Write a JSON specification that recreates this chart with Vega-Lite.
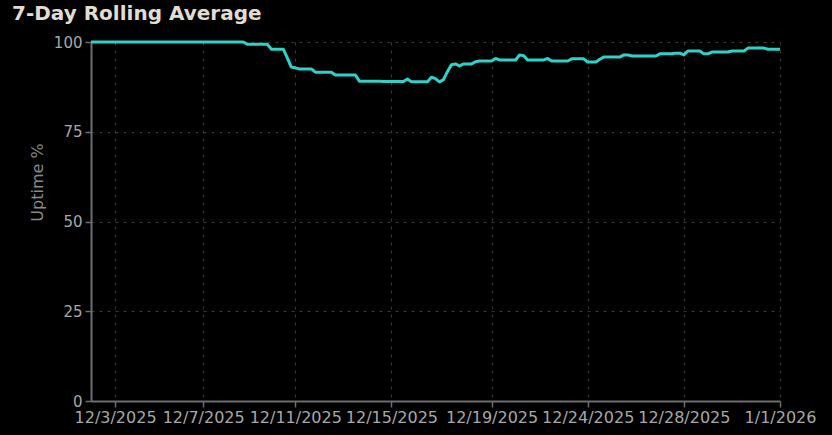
{
  "$schema": "https://vega.github.io/schema/vega-lite/v6.json",
  "width": 689,
  "height": 359,
  "autosize": {"type": "none"},
  "padding": {"left": 91, "top": 42, "right": 52, "bottom": 34},
  "background": "#000000",
  "title": {"text": "7-Day Rolling Average", "anchor": "start", "frame": "group", "dx": -79, "offset": 12, "dy": 17, "baseline": "alphabetic", "fontSize": 20, "fontWeight": "bold", "font": "DejaVu Sans", "color": "#e2ddd3"},
  "config": {"view": {"stroke": null}, "font": "DejaVu Sans"},
  "data": {"values": [
    {"t": "12/2/2025 00:00", "v": 100}, {"t": "12/2/2025 04:00", "v": 100}, {"t": "12/2/2025 08:00", "v": 100}, {"t": "12/2/2025 12:00", "v": 100}, {"t": "12/2/2025 16:00", "v": 100}, {"t": "12/2/2025 20:00", "v": 100},
    {"t": "12/3/2025 00:00", "v": 100}, {"t": "12/3/2025 04:00", "v": 100}, {"t": "12/3/2025 08:00", "v": 100}, {"t": "12/3/2025 12:00", "v": 100}, {"t": "12/3/2025 16:00", "v": 100}, {"t": "12/3/2025 20:00", "v": 100},
    {"t": "12/4/2025 00:00", "v": 100}, {"t": "12/4/2025 04:00", "v": 100}, {"t": "12/4/2025 08:00", "v": 100}, {"t": "12/4/2025 12:00", "v": 100}, {"t": "12/4/2025 20:00", "v": 100},
    {"t": "12/5/2025 00:00", "v": 100}, {"t": "12/5/2025 04:00", "v": 100}, {"t": "12/5/2025 08:00", "v": 100}, {"t": "12/5/2025 12:00", "v": 100}, {"t": "12/5/2025 16:00", "v": 100}, {"t": "12/5/2025 20:00", "v": 100},
    {"t": "12/6/2025 00:00", "v": 100}, {"t": "12/6/2025 04:00", "v": 100}, {"t": "12/6/2025 08:00", "v": 100}, {"t": "12/6/2025 16:00", "v": 100}, {"t": "12/6/2025 20:00", "v": 100},
    {"t": "12/7/2025 00:00", "v": 100}, {"t": "12/7/2025 04:00", "v": 100}, {"t": "12/7/2025 08:00", "v": 100}, {"t": "12/7/2025 12:00", "v": 100}, {"t": "12/7/2025 16:00", "v": 100}, {"t": "12/7/2025 20:00", "v": 100},
    {"t": "12/8/2025 00:00", "v": 100}, {"t": "12/8/2025 04:00", "v": 100}, {"t": "12/8/2025 08:00", "v": 100}, {"t": "12/8/2025 12:00", "v": 100}, {"t": "12/8/2025 16:00", "v": 100}, {"t": "12/8/2025 20:00", "v": 99.4},
    {"t": "12/9/2025 00:00", "v": 99.4}, {"t": "12/9/2025 04:00", "v": 99.4}, {"t": "12/9/2025 08:00", "v": 99.4}, {"t": "12/9/2025 16:00", "v": 99.4}, {"t": "12/9/2025 20:00", "v": 99.4},
    {"t": "12/10/2025 00:00", "v": 98.0}, {"t": "12/10/2025 04:00", "v": 98.0}, {"t": "12/10/2025 08:00", "v": 98.0}, {"t": "12/10/2025 12:00", "v": 98.0}, {"t": "12/10/2025 16:00", "v": 95.6}, {"t": "12/10/2025 20:00", "v": 93.0},
    {"t": "12/11/2025 00:00", "v": 92.8}, {"t": "12/11/2025 04:00", "v": 92.5}, {"t": "12/11/2025 08:00", "v": 92.5}, {"t": "12/11/2025 12:00", "v": 92.5}, {"t": "12/11/2025 16:00", "v": 92.5}, {"t": "12/11/2025 20:00", "v": 91.6},
    {"t": "12/12/2025 00:00", "v": 91.6}, {"t": "12/12/2025 04:00", "v": 91.6}, {"t": "12/12/2025 08:00", "v": 91.6}, {"t": "12/12/2025 12:00", "v": 91.6}, {"t": "12/12/2025 16:00", "v": 90.8}, {"t": "12/12/2025 20:00", "v": 90.8},
    {"t": "12/13/2025 00:00", "v": 90.8}, {"t": "12/13/2025 04:00", "v": 90.8}, {"t": "12/13/2025 08:00", "v": 90.8}, {"t": "12/13/2025 12:00", "v": 90.8}, {"t": "12/13/2025 16:00", "v": 89.1}, {"t": "12/13/2025 20:00", "v": 89.1},
    {"t": "12/14/2025 00:00", "v": 89.1}, {"t": "12/14/2025 04:00", "v": 89.1}, {"t": "12/14/2025 08:00", "v": 89.1}, {"t": "12/14/2025 12:00", "v": 89.1}, {"t": "12/14/2025 16:00", "v": 89.0}, {"t": "12/14/2025 20:00", "v": 89.0},
    {"t": "12/15/2025 00:00", "v": 89.0}, {"t": "12/15/2025 04:00", "v": 89.0}, {"t": "12/15/2025 08:00", "v": 89.0}, {"t": "12/15/2025 12:00", "v": 89.0}, {"t": "12/15/2025 16:00", "v": 89.7}, {"t": "12/15/2025 20:00", "v": 88.9},
    {"t": "12/16/2025 00:00", "v": 88.9}, {"t": "12/16/2025 04:00", "v": 88.9}, {"t": "12/16/2025 08:00", "v": 88.9}, {"t": "12/16/2025 12:00", "v": 88.9}, {"t": "12/16/2025 16:00", "v": 90.2}, {"t": "12/16/2025 20:00", "v": 89.8},
    {"t": "12/17/2025 00:00", "v": 88.9}, {"t": "12/17/2025 04:00", "v": 89.5}, {"t": "12/17/2025 08:00", "v": 91.8}, {"t": "12/17/2025 12:00", "v": 93.7}, {"t": "12/17/2025 14:00", "v": 93.9}, {"t": "12/17/2025 16:00", "v": 93.3}, {"t": "12/17/2025 20:00", "v": 93.9},
    {"t": "12/18/2025 00:00", "v": 93.9}, {"t": "12/18/2025 04:00", "v": 93.9}, {"t": "12/18/2025 08:00", "v": 94.5}, {"t": "12/18/2025 12:00", "v": 94.7}, {"t": "12/18/2025 16:00", "v": 94.7}, {"t": "12/18/2025 20:00", "v": 94.7},
    {"t": "12/19/2025 00:00", "v": 94.7}, {"t": "12/19/2025 05:00", "v": 95.4}, {"t": "12/19/2025 10:00", "v": 95.0}, {"t": "12/19/2025 15:00", "v": 95.0}, {"t": "12/19/2025 20:00", "v": 95.0},
    {"t": "12/20/2025 01:00", "v": 95.0}, {"t": "12/20/2025 06:00", "v": 95.0}, {"t": "12/20/2025 11:00", "v": 96.4}, {"t": "12/20/2025 16:00", "v": 96.2}, {"t": "12/20/2025 21:00", "v": 95.0},
    {"t": "12/21/2025 02:00", "v": 95.0}, {"t": "12/21/2025 07:00", "v": 95.0}, {"t": "12/21/2025 12:00", "v": 95.0}, {"t": "12/21/2025 17:00", "v": 95.0}, {"t": "12/21/2025 22:00", "v": 95.4},
    {"t": "12/22/2025 03:00", "v": 94.7}, {"t": "12/22/2025 08:00", "v": 94.7}, {"t": "12/22/2025 13:00", "v": 94.7}, {"t": "12/22/2025 18:00", "v": 94.7}, {"t": "12/22/2025 23:00", "v": 94.7},
    {"t": "12/23/2025 04:00", "v": 95.3}, {"t": "12/23/2025 09:00", "v": 95.3}, {"t": "12/23/2025 14:00", "v": 95.3}, {"t": "12/23/2025 19:00", "v": 95.3},
    {"t": "12/24/2025 00:00", "v": 94.4}, {"t": "12/24/2025 04:00", "v": 94.4}, {"t": "12/24/2025 08:00", "v": 94.4}, {"t": "12/24/2025 12:00", "v": 95.2}, {"t": "12/24/2025 16:00", "v": 95.8}, {"t": "12/24/2025 20:00", "v": 95.8},
    {"t": "12/25/2025 00:00", "v": 95.8}, {"t": "12/25/2025 04:00", "v": 95.8}, {"t": "12/25/2025 08:00", "v": 95.8}, {"t": "12/25/2025 12:00", "v": 96.4}, {"t": "12/25/2025 16:00", "v": 96.4}, {"t": "12/25/2025 20:00", "v": 96.1},
    {"t": "12/26/2025 00:00", "v": 96.1}, {"t": "12/26/2025 04:00", "v": 96.1}, {"t": "12/26/2025 08:00", "v": 96.1}, {"t": "12/26/2025 12:00", "v": 96.1}, {"t": "12/26/2025 16:00", "v": 96.1}, {"t": "12/26/2025 20:00", "v": 96.1},
    {"t": "12/27/2025 00:00", "v": 96.7}, {"t": "12/27/2025 04:00", "v": 96.7}, {"t": "12/27/2025 08:00", "v": 96.7}, {"t": "12/27/2025 12:00", "v": 96.7}, {"t": "12/27/2025 16:00", "v": 96.9}, {"t": "12/27/2025 20:00", "v": 96.9},
    {"t": "12/28/2025 00:00", "v": 96.4}, {"t": "12/28/2025 04:00", "v": 97.5}, {"t": "12/28/2025 08:00", "v": 97.5}, {"t": "12/28/2025 12:00", "v": 97.5}, {"t": "12/28/2025 16:00", "v": 97.5}, {"t": "12/28/2025 20:00", "v": 96.7},
    {"t": "12/29/2025 00:00", "v": 96.7}, {"t": "12/29/2025 04:00", "v": 97.2}, {"t": "12/29/2025 08:00", "v": 97.2}, {"t": "12/29/2025 12:00", "v": 97.2}, {"t": "12/29/2025 16:00", "v": 97.2}, {"t": "12/29/2025 20:00", "v": 97.2},
    {"t": "12/30/2025 00:00", "v": 97.5}, {"t": "12/30/2025 04:00", "v": 97.5}, {"t": "12/30/2025 08:00", "v": 97.5}, {"t": "12/30/2025 12:00", "v": 97.5}, {"t": "12/30/2025 16:00", "v": 98.3}, {"t": "12/30/2025 20:00", "v": 98.3},
    {"t": "12/31/2025 00:00", "v": 98.3}, {"t": "12/31/2025 04:00", "v": 98.3}, {"t": "12/31/2025 08:00", "v": 98.3}, {"t": "12/31/2025 12:00", "v": 98.0}, {"t": "12/31/2025 16:00", "v": 98.0}, {"t": "12/31/2025 20:00", "v": 98.0},
    {"t": "1/1/2026 00:00", "v": 98.0}
  ]},
  "mark": {"type": "line", "color": "#2cd3cb", "strokeWidth": 3, "interpolate": "linear", "strokeJoin": "round"},
  "encoding": {
    "x": {
      "field": "t", "type": "ordinal", "sort": null,
      "scale": {"type": "point", "padding": 0},
      "axis": {
        "title": null,
        "values": ["12/3/2025 00:00", "12/7/2025 00:00", "12/11/2025 00:00", "12/15/2025 00:00", "12/19/2025 00:00", "12/24/2025 00:00", "12/28/2025 00:00", "1/1/2026 00:00"],
        "labelExpr": "split(datum.value, ' ')[0]",
        "labelAngle": 0, "labelFontSize": 16, "labelColor": "#a8a8a8", "labelPadding": 2, "labelOverlap": false, "labelFlush": false,
        "tickSize": 6, "tickColor": "#6e6e6e", "tickWidth": 1.5,
        "domainColor": "#6e6e6e", "domainWidth": 2,
        "grid": true, "gridColor": "#3a3a3a", "gridDash": [3, 5], "gridWidth": 1
      }
    },
    "y": {
      "field": "v", "type": "quantitative",
      "scale": {"domain": [0, 100]},
      "axis": {
        "title": "Uptime %", "values": [0, 25, 50, 75, 100],
        "labelFontSize": 15, "labelColor": "#a8a8a8", "labelPadding": 3,
        "tickSize": 6, "tickColor": "#6e6e6e", "tickWidth": 1.5,
        "domainColor": "#6e6e6e", "domainWidth": 2,
        "grid": true, "gridColor": "#3a3a3a", "gridDash": [3, 5], "gridWidth": 1,
        "titleColor": "#8a8a8a", "titleFontSize": 16, "titleFontWeight": "normal",
        "titleX": -54, "titleY": 140, "titleAngle": -90, "titleAlign": "center", "titleBaseline": "middle"
      }
    }
  }
}
